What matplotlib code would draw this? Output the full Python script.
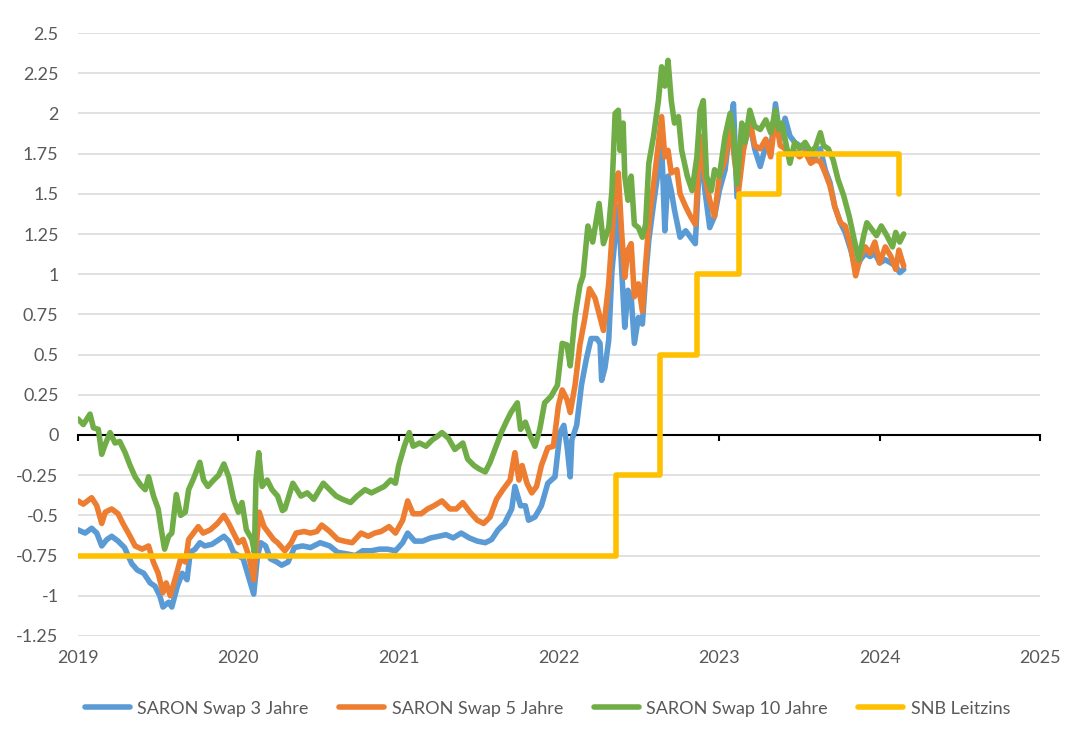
import numpy as np
import matplotlib
matplotlib.use("Agg")
import matplotlib.pyplot as plt

plt.rcParams["font.family"] = ["Lato", "DejaVu Sans"]

# SARON Swap 3 Jahre (decimal year, %)
swap3_t = [2019.00, 2019.044, 2019.085, 2019.117, 2019.148, 2019.18, 2019.21, 2019.25, 2019.29, 2019.335,
           2019.37, 2019.41, 2019.45, 2019.48, 2019.51, 2019.53, 2019.565, 2019.585, 2019.62, 2019.65,
           2019.68, 2019.70, 2019.73, 2019.76, 2019.79, 2019.835, 2019.88, 2019.91, 2019.94, 2019.97,
           2020.0, 2020.03, 2020.075, 2020.096, 2020.12, 2020.14, 2020.17, 2020.20, 2020.24, 2020.27,
           2020.31, 2020.35, 2020.40, 2020.45, 2020.51, 2020.57, 2020.62, 2020.68, 2020.73, 2020.775,
           2020.83, 2020.88, 2020.93, 2020.98, 2021.025, 2021.056, 2021.10, 2021.15, 2021.20, 2021.25,
           2021.295, 2021.34, 2021.39, 2021.44, 2021.49, 2021.54, 2021.58, 2021.62, 2021.66, 2021.705,
           2021.725, 2021.76, 2021.79, 2021.81, 2021.85, 2021.89, 2021.93, 2021.975, 2022.006, 2022.03,
           2022.05, 2022.07, 2022.08, 2022.11, 2022.14, 2022.17, 2022.20, 2022.235, 2022.256, 2022.266,
           2022.287, 2022.31, 2022.33, 2022.35, 2022.37, 2022.39, 2022.41, 2022.43, 2022.45, 2022.47,
           2022.495, 2022.52, 2022.54, 2022.56, 2022.59, 2022.62, 2022.64, 2022.66, 2022.68, 2022.70,
           2022.72, 2022.755, 2022.79, 2022.82, 2022.85, 2022.88, 2022.91, 2022.94, 2022.97, 2023.0,
           2023.036, 2023.067, 2023.088, 2023.11, 2023.14, 2023.16, 2023.19, 2023.22, 2023.255, 2023.29,
           2023.32, 2023.35, 2023.38, 2023.41, 2023.44, 2023.47, 2023.50, 2023.535, 2023.57, 2023.60,
           2023.63, 2023.66, 2023.69, 2023.72, 2023.755, 2023.785, 2023.82, 2023.85, 2023.88, 2023.91,
           2023.94, 2023.97, 2024.00, 2024.035, 2024.07, 2024.10, 2024.125, 2024.15]
swap3_v = [-0.59, -0.61, -0.58, -0.61, -0.69, -0.65, -0.63, -0.66, -0.70, -0.80,
           -0.84, -0.86, -0.92, -0.94, -1.0, -1.07, -1.04, -1.07, -0.94, -0.86,
           -0.90, -0.73, -0.71, -0.67, -0.69, -0.68, -0.65, -0.63, -0.66, -0.73,
           -0.75, -0.77, -0.92, -0.99, -0.75, -0.67, -0.69, -0.77, -0.79, -0.81,
           -0.79, -0.70, -0.69, -0.70, -0.67, -0.69, -0.73, -0.74, -0.75, -0.72,
           -0.72, -0.71, -0.71, -0.72, -0.67, -0.61, -0.66, -0.66, -0.64, -0.63,
           -0.62, -0.64, -0.61, -0.64, -0.66, -0.67, -0.65, -0.59, -0.55, -0.46,
           -0.32, -0.44, -0.44, -0.53, -0.51, -0.44, -0.30, -0.26, 0.015, 0.06,
           -0.07, -0.26, -0.03, 0.06, 0.31, 0.47, 0.60, 0.60, 0.57, 0.34,
           0.42, 0.59, 1.02, 1.23, 1.42, 1.04, 0.67, 0.90, 0.86, 0.57,
           0.73, 0.69, 0.98, 1.21, 1.44, 1.65, 1.81, 1.27, 1.61, 1.52,
           1.40, 1.23, 1.27, 1.23, 1.19, 1.79, 1.52, 1.29, 1.36, 1.52,
           1.65, 1.92, 2.06, 1.48, 1.76, 1.82, 1.94, 1.78, 1.67, 1.80,
           1.76, 2.06, 1.84, 1.97, 1.86, 1.82, 1.80, 1.78, 1.71, 1.73,
           1.78, 1.65, 1.57, 1.42, 1.32, 1.26, 1.15, 1.03, 1.09, 1.13,
           1.11, 1.13, 1.07, 1.09, 1.07, 1.05, 1.01, 1.03]

# SARON Swap 5 Jahre
swap5_t = [2019.00, 2019.033, 2019.085, 2019.117, 2019.148, 2019.17, 2019.21, 2019.25, 2019.28, 2019.325,
           2019.356, 2019.40, 2019.44, 2019.47, 2019.50, 2019.53, 2019.55, 2019.575, 2019.61, 2019.64,
           2019.67, 2019.69, 2019.72, 2019.75, 2019.78, 2019.825, 2019.87, 2019.91, 2019.94, 2019.97,
           2020.0, 2020.03, 2020.065, 2020.096, 2020.11, 2020.13, 2020.16, 2020.19, 2020.22, 2020.245,
           2020.29, 2020.33, 2020.36, 2020.41, 2020.45, 2020.49, 2020.52, 2020.57, 2020.62, 2020.66,
           2020.71, 2020.765, 2020.81, 2020.85, 2020.89, 2020.94, 2020.98, 2021.025, 2021.056, 2021.09,
           2021.14, 2021.18, 2021.22, 2021.27, 2021.32, 2021.36, 2021.40, 2021.445, 2021.49, 2021.53,
           2021.57, 2021.61, 2021.65, 2021.695, 2021.725, 2021.75, 2021.77, 2021.80, 2021.83, 2021.86,
           2021.89, 2021.93, 2021.965, 2021.996, 2022.02, 2022.05, 2022.07, 2022.10, 2022.13, 2022.16,
           2022.19, 2022.225, 2022.256, 2022.277, 2022.31, 2022.33, 2022.35, 2022.37, 2022.39, 2022.41,
           2022.43, 2022.45, 2022.47, 2022.495, 2022.52, 2022.54, 2022.56, 2022.59, 2022.62, 2022.64,
           2022.66, 2022.68, 2022.70, 2022.735, 2022.755, 2022.79, 2022.82, 2022.85, 2022.88, 2022.91,
           2022.94, 2022.97, 2023.0, 2023.036, 2023.067, 2023.10, 2023.12, 2023.15, 2023.19, 2023.22,
           2023.255, 2023.29, 2023.32, 2023.35, 2023.38, 2023.41, 2023.44, 2023.47, 2023.50, 2023.535,
           2023.57, 2023.60, 2023.63, 2023.66, 2023.69, 2023.72, 2023.755, 2023.785, 2023.82, 2023.85,
           2023.88, 2023.91, 2023.94, 2023.97, 2024.00, 2024.035, 2024.07, 2024.10, 2024.12, 2024.15]
swap5_v = [-0.41, -0.43, -0.39, -0.44, -0.55, -0.48, -0.46, -0.49, -0.55, -0.63,
           -0.69, -0.71, -0.69, -0.79, -0.86, -0.98, -0.92, -1.0, -0.88, -0.77,
           -0.79, -0.65, -0.61, -0.57, -0.61, -0.59, -0.55, -0.50, -0.55, -0.61,
           -0.67, -0.65, -0.75, -0.90, -0.71, -0.48, -0.57, -0.61, -0.65, -0.67,
           -0.72, -0.67, -0.61, -0.60, -0.61, -0.60, -0.56, -0.60, -0.65, -0.66,
           -0.67, -0.61, -0.63, -0.61, -0.60, -0.57, -0.61, -0.53, -0.41, -0.49,
           -0.49, -0.46, -0.44, -0.41, -0.46, -0.46, -0.42, -0.48, -0.53, -0.55,
           -0.51, -0.40, -0.34, -0.28, -0.11, -0.28, -0.19, -0.30, -0.36, -0.32,
           -0.19, -0.08, -0.07, 0.18, 0.28, 0.22, 0.14, 0.31, 0.56, 0.72,
           0.91, 0.85, 0.73, 0.65, 0.94, 1.23, 1.52, 1.63, 1.27, 0.98,
           1.15, 1.19, 0.86, 0.94, 0.77, 1.06, 1.31, 1.56, 1.81, 1.98,
           1.73, 1.77, 1.63, 1.65, 1.50, 1.42, 1.36, 1.31, 1.86, 1.61,
           1.46, 1.36, 1.61, 1.71, 1.94, 1.67, 1.52, 1.77, 1.96, 1.80,
           1.78, 1.84, 1.73, 1.98, 1.80, 1.78, 1.73, 1.76, 1.73, 1.76,
           1.69, 1.71, 1.70, 1.63, 1.55, 1.42, 1.32, 1.30, 1.17, 0.99,
           1.11, 1.17, 1.13, 1.20, 1.07, 1.17, 1.11, 1.03, 1.15, 1.05]

# SARON Swap 10 Jahre
swap10_t = [2019.00, 2019.033, 2019.075, 2019.096, 2019.127, 2019.148, 2019.169, 2019.20, 2019.231, 2019.26,
            2019.294, 2019.325, 2019.356, 2019.39, 2019.419, 2019.44, 2019.471, 2019.50, 2019.523, 2019.54,
            2019.565, 2019.585, 2019.613, 2019.64, 2019.669, 2019.69, 2019.721, 2019.76, 2019.783, 2019.81,
            2019.846, 2019.877, 2019.91, 2019.94, 2019.97, 2020.0, 2020.023, 2020.05, 2020.085, 2020.10,
            2020.11, 2020.127, 2020.148, 2020.18, 2020.21, 2020.245, 2020.275, 2020.29, 2020.34, 2020.39,
            2020.43, 2020.47, 2020.53, 2020.57, 2020.61, 2020.65, 2020.70, 2020.74, 2020.79, 2020.83,
            2020.87, 2020.91, 2020.95, 2020.98, 2021.0, 2021.035, 2021.066, 2021.09, 2021.13, 2021.17,
            2021.21, 2021.24, 2021.27, 2021.31, 2021.35, 2021.40, 2021.43, 2021.47, 2021.50, 2021.54,
            2021.57, 2021.60, 2021.64, 2021.67, 2021.70, 2021.74, 2021.76, 2021.79, 2021.82, 2021.85,
            2021.88, 2021.91, 2021.95, 2021.99, 2022.02, 2022.05, 2022.07, 2022.10, 2022.13, 2022.15,
            2022.18, 2022.21, 2022.25, 2022.277, 2022.31, 2022.33, 2022.35, 2022.37, 2022.38, 2022.40,
            2022.41, 2022.43, 2022.45, 2022.47, 2022.495, 2022.52, 2022.54, 2022.56, 2022.59, 2022.62,
            2022.64, 2022.66, 2022.68, 2022.70, 2022.72, 2022.745, 2022.765, 2022.80, 2022.83, 2022.86,
            2022.88, 2022.90, 2022.92, 2022.95, 2022.97, 2023.0, 2023.036, 2023.067, 2023.088, 2023.11,
            2023.14, 2023.16, 2023.19, 2023.22, 2023.255, 2023.29, 2023.32, 2023.35, 2023.37, 2023.39,
            2023.41, 2023.44, 2023.47, 2023.50, 2023.535, 2023.57, 2023.60, 2023.63, 2023.65, 2023.68,
            2023.71, 2023.74, 2023.775, 2023.81, 2023.84, 2023.87, 2023.90, 2023.92, 2023.95, 2023.98,
            2024.01, 2024.045, 2024.08, 2024.10, 2024.125, 2024.15]
swap10_v = [0.10, 0.065, 0.13, 0.045, 0.035, -0.12, -0.06, 0.015, -0.05, -0.04,
            -0.11, -0.19, -0.26, -0.31, -0.34, -0.26, -0.38, -0.46, -0.61, -0.71,
            -0.63, -0.61, -0.37, -0.50, -0.48, -0.34, -0.27, -0.17, -0.28, -0.32,
            -0.28, -0.25, -0.18, -0.26, -0.40, -0.48, -0.42, -0.59, -0.65, -0.73,
            -0.28, -0.11, -0.32, -0.28, -0.34, -0.38, -0.47, -0.46, -0.30, -0.38,
            -0.36, -0.40, -0.30, -0.34, -0.38, -0.40, -0.42, -0.38, -0.34, -0.36,
            -0.34, -0.32, -0.28, -0.30, -0.19, -0.07, 0.015, -0.07, -0.05, -0.07,
            -0.03, -0.01, 0.015, -0.02, -0.09, -0.05, -0.15, -0.19, -0.21, -0.23,
            -0.17, -0.09, 0.015, 0.08, 0.14, 0.20, 0.035, 0.08, -0.006, -0.07,
            0.035, 0.20, 0.24, 0.31, 0.57, 0.56, 0.43, 0.74, 0.93, 0.99,
            1.30, 1.20, 1.44, 1.19, 1.29, 1.52, 2.0, 2.02, 1.77, 1.94,
            1.61, 1.46, 1.61, 1.31, 1.29, 1.23, 1.31, 1.69, 1.86, 2.08,
            2.29, 2.17, 2.33, 2.08, 1.94, 1.98, 1.77, 1.61, 1.52, 1.73,
            2.02, 2.08, 1.61, 1.52, 1.65, 1.61, 1.86, 2.0, 1.88, 1.56,
            1.94, 1.82, 2.02, 1.92, 1.90, 1.96, 1.88, 2.02, 1.90, 1.94,
            1.84, 1.69, 1.82, 1.78, 1.82, 1.76, 1.79, 1.88, 1.80, 1.78,
            1.71, 1.59, 1.49, 1.36, 1.22, 1.09, 1.24, 1.32, 1.28, 1.24,
            1.30, 1.24, 1.17, 1.26, 1.20, 1.25]

# SNB Leitzins (step changes)
snb_t = [2019.0, 2022.356, 2022.63, 2022.86, 2023.125, 2023.37, 2024.12]
snb_v = [-0.75, -0.25, 0.5, 1.0, 1.5, 1.75, 1.5]

years = [2019, 2020, 2021, 2022, 2023, 2024, 2025]
yticks = [-1.25, -1.0, -0.75, -0.5, -0.25, 0, 0.25, 0.5, 0.75, 1.0, 1.25, 1.5, 1.75, 2.0, 2.25, 2.5]

label_color = "#595959"
lw = 4.0

fig = plt.figure(figsize=(10.82, 7.29), dpi=100)
ax = fig.add_axes([0.0721, 0.1276, 0.8891, 0.8271])

ax.plot(swap3_t, swap3_v, color="#5B9BD5", lw=lw, solid_capstyle="round", solid_joinstyle="round",
        label="SARON Swap 3 Jahre", zorder=3)
ax.plot(swap5_t, swap5_v, color="#ED7D31", lw=lw, solid_capstyle="round", solid_joinstyle="round",
        label="SARON Swap 5 Jahre", zorder=4)
ax.plot(swap10_t, swap10_v, color="#70AD47", lw=lw, solid_capstyle="round", solid_joinstyle="round",
        label="SARON Swap 10 Jahre", zorder=5)
ax.plot(snb_t, snb_v, color="#FFC000", lw=lw, drawstyle="steps-post", solid_capstyle="round",
        solid_joinstyle="round", label="SNB Leitzins", zorder=6)

ax.set_xlim(2019, 2025)
ax.set_ylim(-1.25, 2.5)

# gridlines
ax.set_yticks(yticks)
ax.set_yticklabels([f"{v:g}" for v in yticks])
ax.yaxis.grid(True, color="#D9D9D9", lw=1.1, zorder=0)
ax.set_axisbelow(True)
ax.tick_params(axis="y", length=0, pad=14, labelsize=13, labelcolor=label_color)

for s in ["top", "right", "left"]:
    ax.spines[s].set_visible(False)
ax.spines["bottom"].set_position(("data", 0))
ax.spines["bottom"].set_color("black")
ax.spines["bottom"].set_linewidth(1.5)
ax.spines["bottom"].set_zorder(2)
ax.set_xticks(years)
ax.tick_params(axis="x", direction="out", length=4.5, width=1.5, color="black", labelbottom=False)

sec = ax.secondary_xaxis(0)
sec.set_xticks(years)
sec.set_xticklabels([str(y) for y in years])
sec.tick_params(length=0, pad=10, labelsize=13, labelcolor=label_color)
sec.spines["bottom"].set_visible(False)

fig.legend(loc="center", bbox_to_anchor=(0.506, 0.028), ncol=4, frameon=False, fontsize=13,
           handlelength=2.5, handletextpad=0.4, columnspacing=1.7, labelcolor=label_color)

fig.savefig("out.png", dpi=100)
